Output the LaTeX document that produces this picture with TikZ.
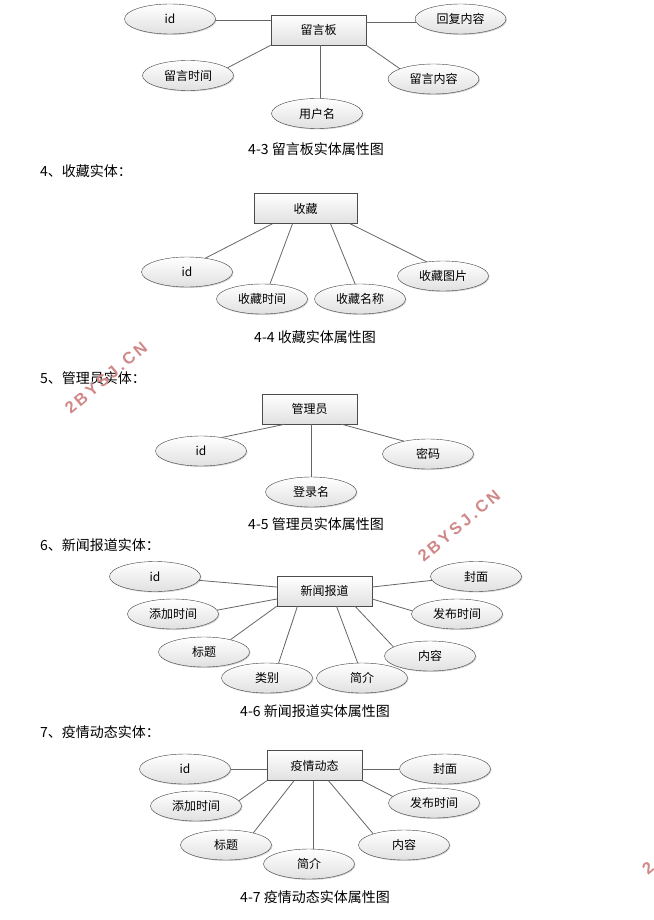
\documentclass[tikz,border=0pt]{standalone}
\usepackage{fontspec}
\setmainfont{Noto Sans CJK SC}
\newfontfamily\markfont[LetterSpace=18]{Liberation Sans}
\usetikzlibrary{shapes.geometric,shadows}
\definecolor{wmred}{RGB}{208,136,136}
\tikzset{
  entbox/.style={rectangle, draw=black!70, top color=white, bottom color=black!12, minimum width=95pt, minimum height=30pt, inner sep=0pt, font=\fontsize{12}{14}\selectfont},
  attr/.style={ellipse, draw=black!75, top color=white, bottom color=black!12, drop shadow={shadow xshift=1pt, shadow yshift=-1pt, opacity=.35}, minimum width=91pt, minimum height=30pt, inner sep=0pt, font=\fontsize{12}{14}\selectfont},
  link/.style={draw=black!60, line width=.8pt},
  figcap/.style={font=\fontsize{14}{16}\selectfont, inner sep=0pt},
  head/.style={font=\fontsize{14}{16}\selectfont, anchor=west, inner sep=0pt},
  wmark/.style={text=wmred, font=\markfont\bfseries\fontsize{16.5}{18}\selectfont, rotate=40, inner sep=0pt}
}
\begin{document}
\begin{tikzpicture}[x=1pt,y=-1pt]
\useasboundingbox (0,0) rectangle (653,920);
% 4-3
\node[entbox] (eid3) at (318.5,30){留言板};
\node[attr] (aid3a) at (170,19){id};
\node[attr] (aid3b) at (460.5,19){回复内容};
\node[attr] (aid3c) at (188,75.5){留言时间};
\node[attr] (aid3d) at (433.5,79){留言内容};
\node[attr] (aid3e) at (317,113.5){用户名};
\draw[link](aid3a.-2) -- (aid3a.-2 -| eid3.west);
\draw[link](aid3b.185) -- (aid3b.185 -| eid3.east);
\draw[link](aid3c.11) -- (eid3.south west);
\draw[link](aid3d.163) -- (eid3.south east);
\draw[link](aid3e.76) -- (aid3e.76 |- eid3.south);
\node[figcap] (cap3) at (316,149){4-3 留言板实体属性图};
\node[head] (head4) at (40,171){4、收藏实体：};
% 4-4
\node[entbox, minimum width=103pt] (eid4) at (305.5,208.5){收藏};
\node[attr] (aid4a) at (187,272){id};
\node[attr] (aid4b) at (262,299){收藏时间};
\node[attr] (aid4c) at (360,299){收藏名称};
\node[attr] (aid4d) at (443,276){收藏图片};
\draw[link](aid4a.37) -- ([xshift=-33pt]eid4.south);
\draw[link](aid4b.62) -- ([xshift=-13pt]eid4.south);
\draw[link](aid4c.108) -- ([xshift=25pt]eid4.south);
\draw[link](aid4d.139) -- ([xshift=44.5pt]eid4.south);
\node[figcap] (cap4) at (315,337){4-4 收藏实体属性图};
\node[head] (head5) at (40,378){5、管理员实体：};
% 4-5
\node[entbox] (eid5) at (309.5,409){管理员};
\node[attr] (aid5a) at (201,451){id};
\node[attr] (aid5b) at (311,492){登录名};
\node[attr] (aid5c) at (428,454){密码};
\draw[link](aid5a.33) -- ([xshift=-24.5pt]eid5.south);
\draw[link](aid5b.north) -- (aid5b.north |- eid5.south);
\draw[link](aid5c.152) -- ([xshift=32pt]eid5.south);
\node[figcap] (cap5) at (316,524){4-5 管理员实体属性图};
\node[head] (head6) at (40,545){6、新闻报道实体：};
% 4-6
\node[entbox] (eid6) at (324.5,591){新闻报道};
\node[attr] (aid6a) at (155,576.5){id};
\node[attr] (aid6b) at (173,614){添加时间};
\node[attr] (aid6c) at (204,652){标题};
\node[attr] (aid6d) at (267,678){类别};
\node[attr] (aid6e) at (362,678){简介};
\node[attr] (aid6f) at (430,656){内容};
\node[attr] (aid6g) at (457,614){发布时间};
\node[attr] (aid6h) at (476,576.5){封面};
\draw[link](aid6a.-5) -- ([yshift=4pt]eid6.west);
\draw[link](aid6b.5) -- ([yshift=-8pt]eid6.west);
\draw[link](aid6c.25) -- (eid6.south west);
\draw[link](aid6d.52) -- ([xshift=-27pt]eid6.south);
\draw[link](aid6e.106) -- ([xshift=12pt]eid6.south);
\draw[link](aid6f.166) -- ([xshift=30.5pt]eid6.south);
\draw[link](aid6g.176) -- ([yshift=-8pt]eid6.east);
\draw[link](aid6h.185) -- ([yshift=4pt]eid6.east);
\node[figcap] (cap6) at (315,711){4-6 新闻报道实体属性图};
\node[head] (head7) at (40,732){7、疫情动态实体：};
% 4-7
\node[entbox] (eid7) at (314.5,765.5){疫情动态};
\node[attr] (aid7a) at (185,769){id};
\node[attr] (aid7b) at (196,806){添加时间};
\node[attr] (aid7c) at (226,845){标题};
\node[attr] (aid7d) at (309,864){简介};
\node[attr] (aid7e) at (404,845){内容};
\node[attr] (aid7f) at (434,803){发布时间};
\node[attr] (aid7g) at (445,769){封面};
\draw[link](aid7a.east) -- (aid7a.east -| eid7.west);
\draw[link](aid7b.7) -- (eid7.south west);
\draw[link](aid7c.24) -- ([xshift=-20.5pt]eid7.south);
\draw[link](aid7d.75) -- (aid7d.75 |- eid7.south);
\draw[link](aid7e.160) -- ([xshift=14pt]eid7.south);
\draw[link](aid7f.171) -- (eid7.south east);
\draw[link](aid7g.west) -- (aid7g.west -| eid7.east);
\node[figcap] (cap7) at (315,897){4-7 疫情动态实体属性图};
% watermarks
\node[wmark] (mark1) at (106,378){2BYSJ.CN};
\node[wmark] (mark2) at (459,526){2BYSJ.CN};
\node[wmark] (mark3) at (648,868){2};
\end{tikzpicture}
\end{document}
